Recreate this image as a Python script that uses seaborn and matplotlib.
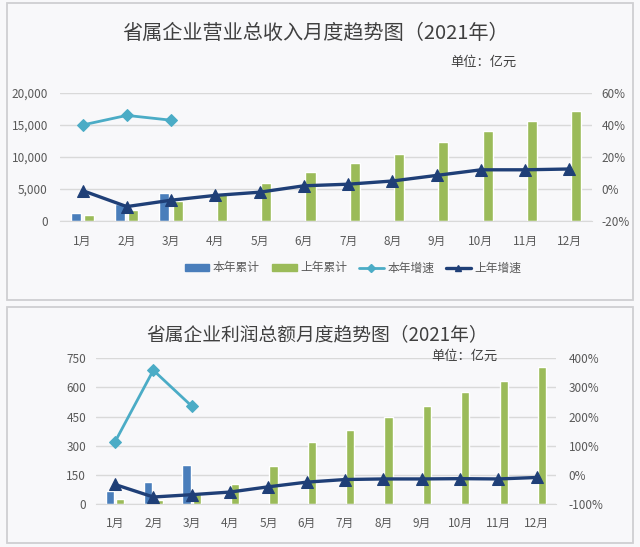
import numpy as np
import pandas as pd
import matplotlib
matplotlib.use("Agg")
import matplotlib.pyplot as plt
import seaborn as sns
from matplotlib.patches import Patch, Rectangle
from matplotlib.lines import Line2D
from matplotlib.ticker import FuncFormatter

# ---- data ----
months = ["1月", "2月", "3月", "4月", "5月", "6月", "7月", "8月", "9月", "10月", "11月", "12月"]

# 营业总收入 (亿元)
rev_this_year = [1300, 2700, 4400]
rev_last_year = [950, 1700, 3100, 4300, 5900, 7700, 9000, 10500, 12400, 14000, 15700, 17200]
rev_growth_this = [40, 46, 43]
rev_growth_last = [-1, -11, -7, -4, -2, 2, 3, 5, 8.5, 12, 12, 12.5]

# 利润总额 (亿元)
prof_this_year = [67, 112, 203]
prof_last_year = [28, 22, 50, 105, 196, 318, 380, 447, 507, 576, 634, 705]
prof_growth_this = [113, 359, 236]
prof_growth_last = [-33, -76, -68, -59, -41, -25, -16, -14, -14, -13, -14, -9]

series = ["本年累计", "上年累计", "本年增速", "上年增速"]
c_blue, c_green, c_cyan, c_navy = "#4a7ebb", "#9bbb59", "#4bacc6", "#1f3f77"
bg = "#f8f8fa"
txt = "#595959"

sns.set_style("white")
plt.rcParams["font.family"] = ["Noto Sans CJK SC", "DejaVu Sans"]
plt.rcParams["axes.unicode_minus"] = False

W, H = 640, 547
fig = plt.figure(figsize=(W / 100, H / 100), dpi=100, facecolor=bg)


def px(x0, y0, x1, y1):
    """pixel box -> figure fraction rect"""
    return [x0 / W, 1 - y1 / H, (x1 - x0) / W, (y1 - y0) / H]


def panel(rect, this_year, last_year, g_this, g_last, ylim, yticks, rlim, rticks,
          bar_width, bar_gap, lpad, rpad, xpad, left_fmt):
    ax = fig.add_axes(rect)
    ax.set_facecolor("none")
    df = pd.DataFrame({
        "月份": months[:len(this_year)] + months,
        "值": this_year + last_year,
        "系列": [series[0]] * len(this_year) + [series[1]] * len(last_year),
    })
    sns.barplot(data=df, x="月份", y="值", hue="系列", order=months,
                hue_order=series[:2], palette=[c_blue, c_green], saturation=1,
                width=bar_width, gap=bar_gap, legend=False, ax=ax, zorder=2)
    ax.set_xlim(-0.5, len(months) - 0.5)
    ax.set_ylim(*ylim)
    ax.set_yticks(yticks)
    ax.yaxis.set_major_formatter(FuncFormatter(left_fmt))
    ax.grid(axis="y", color="#d9d9d9", lw=1, zorder=0)
    ax.set_axisbelow(True)
    ax.set_xlabel("")
    ax.set_ylabel("")
    for s in ["left", "right", "top"]:
        ax.spines[s].set_visible(False)
    ax.spines["bottom"].set_color("#d9d9d9")
    ax.tick_params(axis="y", length=0, pad=lpad, labelsize=8.5, labelcolor=txt)
    ax.tick_params(axis="x", length=0, pad=xpad, labelsize=8.5, labelcolor=txt)

    ax2 = ax.twinx()
    sns.lineplot(x=np.arange(len(g_last)), y=g_last, color=c_navy, lw=2.4,
                 marker="^", markersize=8, markeredgecolor=c_navy, ax=ax2)
    sns.lineplot(x=np.arange(len(g_this)), y=g_this, color=c_cyan, lw=2.0,
                 marker="D", markersize=6, markeredgecolor=c_cyan, ax=ax2)
    ax2.set_xlim(-0.5, len(months) - 0.5)
    ax2.set_ylim(*rlim)
    ax2.set_yticks(rticks)
    ax2.yaxis.set_major_formatter(FuncFormatter(lambda v, p: f"{v:.0f}%"))
    for s in ax2.spines.values():
        s.set_visible(False)
    ax2.tick_params(axis="y", length=0, pad=rpad, labelsize=8.5, labelcolor=txt)
    ax2.grid(False)
    return ax, ax2


# ---- panel frames ----
for (x0, y0, x1, y1) in [(7, 3, 633, 300), (7, 307, 633, 543)]:
    fig.add_artist(Rectangle((x0 / W, 1 - y1 / H), (x1 - x0) / W, (y1 - y0) / H,
                             transform=fig.transFigure, fill=False,
                             edgecolor="#cfcfd2", lw=1.3))

# ---- top chart: revenue ----
panel(px(60.4, 93, 591.6, 221), rev_this_year, rev_last_year,
      rev_growth_this, rev_growth_last,
      (0, 20000), np.arange(0, 20001, 5000), (-20, 60), np.arange(-20, 61, 20),
      0.6, 0.24, 9, 7, 10, lambda v, p: f"{v:,.0f}")
fig.text(316 / W, 1 - 33 / H, "省属企业营业总收入月度趋势图（2021年）",
         ha="center", va="center", fontsize=14.5, color="#404040")
fig.text(483 / W, 1 - 62 / H, "单位：亿元", ha="center", va="center",
         fontsize=9.5, color="#404040")

handles = [Patch(color=c_blue), Patch(color=c_green),
           Line2D([], [], color=c_cyan, lw=2, marker="D", markersize=4),
           Line2D([], [], color=c_navy, lw=2.4, marker="^", markersize=5)]
fig.legend(handles, series, loc="center", bbox_to_anchor=(353 / W, 1 - 268 / H),
           ncol=4, frameon=False, fontsize=8.5, labelcolor=txt,
           handlelength=2.1, handleheight=0.6, handletextpad=0.3, columnspacing=1.0)

# ---- bottom chart: profit ----
panel(px(95.8, 358.3, 556, 504), prof_this_year, prof_last_year,
      prof_growth_this, prof_growth_last,
      (0, 750), np.arange(0, 751, 150), (-100, 400), np.arange(-100, 401, 100),
      0.54, 0.2, 7, 9, 9, lambda v, p: f"{v:.0f}")
fig.text(317 / W, 1 - 335 / H, "省属企业利润总额月度趋势图（2021年）",
         ha="center", va="center", fontsize=13.5, color="#404040")
fig.text(464 / W, 1 - 356 / H, "单位：亿元", ha="center", va="center",
         fontsize=9.5, color="#404040")

fig.savefig("out.png", dpi=100, facecolor=bg)
